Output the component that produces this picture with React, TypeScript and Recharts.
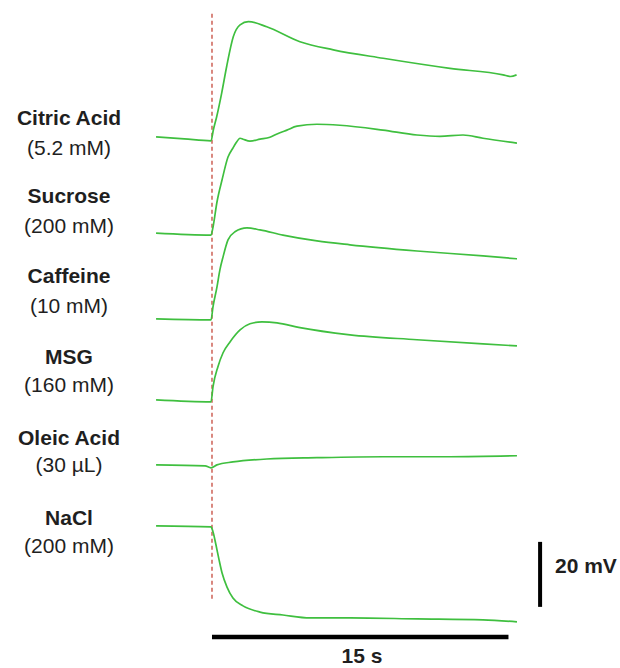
import { LineChart, Line, XAxis, YAxis, ReferenceLine } from "recharts";

// time (s, 0 = stimulus onset) and response (mV, relative to pre-stimulus baseline)
const citricAcid: [number, number][] = [
  [-2.83, 0.3], [-1.4, -0.3], [-0.05, -0.9], [0.07, 2.5], [0.24, 6.6], [0.49, 13.8],
  [0.74, 21.9], [1.08, 31.2], [1.42, 34.8], [1.84, 35.8], [2.77, 34.2], [4.45, 29.6],
  [6.14, 27.1], [8.66, 24.5], [12.04, 21.4], [14.73, 19.4], [15.1, 18.9], [15.41, 19.4],
];

const sucrose: [number, number][] = [
  [-2.83, 0], [-0.05, -0.6], [0.05, 1.8], [0.25, 9.5], [0.51, 16.4], [0.81, 23.4],
  [1.06, 26.2], [1.21, 27.7], [1.42, 29.2], [1.57, 28.9], [1.92, 28.3], [2.43, 28.9],
  [2.93, 29.5], [3.29, 30.5], [3.79, 31.7], [4.3, 32.9], [5.31, 33.5], [6.47, 33.2],
  [8.65, 31.7], [10.37, 30.2], [11.53, 29.8], [12.7, 30.2], [13.71, 29.2], [15.43, 27.7],
];

const caffeine: [number, number][] = [
  [-2.83, 0], [-0.05, -0.3], [0.05, 3.7], [0.25, 9.8], [0.4, 15.1], [0.56, 19.1],
  [0.81, 24.3], [1.16, 26.8], [1.77, 28.0], [2.43, 27.4], [3.59, 25.8], [5.31, 24.0],
  [6.98, 22.8], [10.37, 20.9], [13.71, 19.4], [15.43, 18.5],
];

const msg: [number, number][] = [
  [-2.83, 0], [-0.05, -0.6], [0.05, 4.0], [0.3, 10.2], [0.56, 14.5], [0.91, 17.8],
  [1.42, 21.5], [1.92, 23.4], [2.53, 24.0], [3.29, 23.7], [4.45, 22.2], [6.98, 20.0],
  [10.37, 18.5], [13.71, 17.2], [15.43, 16.6],
];

const oleicAcid: [number, number][] = [
  [-2.83, 0], [-0.35, -0.3], [-0.05, -0.9], [0.25, 0], [1.06, 0.9], [2.78, 1.8],
  [5.31, 2.2], [8.65, 2.5], [12.04, 2.5], [15.43, 2.8],
];

const nacl: [number, number][] = [
  [-2.83, 0], [-0.05, -0.3], [0.05, -1.8], [0.2, -5.8], [0.35, -10.2], [0.51, -14.5],
  [0.76, -18.8], [1.06, -22.2], [1.57, -24.6], [2.43, -26.5], [3.59, -27.4], [4.96, -28.3],
  [6.98, -28.3], [10.37, -28.6], [13.71, -28.9], [15.43, -29.5],
];

const traces = [citricAcid, sucrose, caffeine, msg, oleicAcid, nacl];
const tastants = ["Citric Acid", "Sucrose", "Caffeine", "MSG", "Oleic Acid", "NaCl"];
const concentrations = ["(5.2 mM)", "(200 mM)", "(10 mM)", "(160 mM)", "(30 µL)", "(200 mM)"];
// vertical stacking of the traces (mV)
const stackOffsets = [158.8, 129.5, 103.1, 78.2, 58.2, 39.4];

// label baselines (px)
const nameY = [125, 203, 283, 364, 445, 525];
const concY = [155, 233, 313, 392, 472, 553];

const W = 620;
const H = 668;
const GREEN = "#3fbf3f";
const FONT = "'Liberation Sans', Arial, sans-serif";

const series = traces.map((tr, i) =>
  tr.map(([t, v]) => ({ t, v: v + stackOffsets[i] }))
);

export default function App() {
  return (
    <div style={{ position: "absolute", left: 0, top: 0, width: W, height: H, background: "#fff" }}>
      <LineChart width={W} height={H} margin={{ top: 4, right: 72, bottom: 14, left: 152.7 }}>
        <XAxis dataKey="t" type="number" domain={[-3, 17]} hide allowDataOverflow />
        <YAxis type="number" domain={[0, 200]} hide allowDataOverflow />
        <ReferenceLine
          segment={[{ x: 0, y: 197 }, { x: 0, y: 16.6 }]}
          stroke="#c0392b"
          strokeWidth={1.2}
          strokeDasharray="4 3"
        />
        {series.map((d, i) => (
          <Line
            key={tastants[i]}
            data={d}
            dataKey="v"
            type="monotone"
            stroke={GREEN}
            strokeWidth={1.7}
            dot={false}
            isAnimationActive={false}
          />
        ))}
        {/* 15 s scale bar */}
        <ReferenceLine segment={[{ x: 0, y: 5.2 }, { x: 15, y: 5.2 }]} stroke="#000" strokeWidth={4.5} />
        {/* 20 mV scale bar */}
        <ReferenceLine segment={[{ x: 16.6, y: 14.5 }, { x: 16.6, y: 34.5 }]} stroke="#000" strokeWidth={4} />
      </LineChart>
      <svg width={W} height={H} style={{ position: "absolute", left: 0, top: 0, pointerEvents: "none" }}>
        {tastants.map((name, i) => (
          <g key={name + i} fontFamily={FONT} fontSize={21} fill="#1f1f1f" textAnchor="middle">
            <text x={69} y={nameY[i]} fontWeight="bold">{name}</text>
            <text x={69} y={concY[i]}>{concentrations[i]}</text>
          </g>
        ))}
        <text x={555} y={573} fontFamily={FONT} fontSize={21} fontWeight="bold" fill="#1f1f1f">20 mV</text>
        <text x={362} y={663} fontFamily={FONT} fontSize={21} fontWeight="bold" fill="#1f1f1f" textAnchor="middle">15 s</text>
      </svg>
    </div>
  );
}
